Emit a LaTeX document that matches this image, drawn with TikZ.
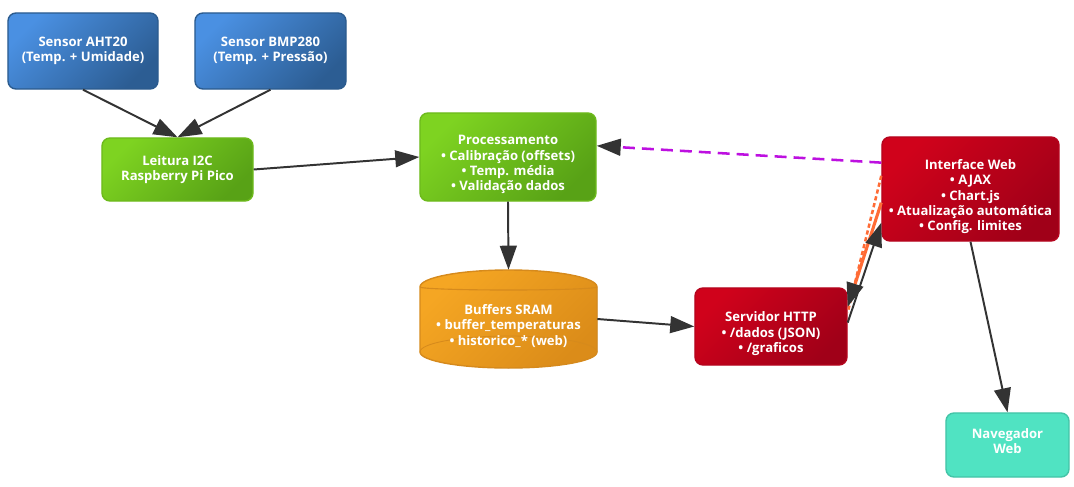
\documentclass[tikz,border=0pt]{standalone}
\usepackage{fontspec}
\setmainfont{Open Sans}
\usetikzlibrary{calc,arrows.meta}

\definecolor{blueA}{HTML}{4A90E2}
\definecolor{blueB}{HTML}{2C5D93}
\definecolor{blueE}{HTML}{2B5B8E}
\definecolor{greenA}{HTML}{7ED321}
\definecolor{greenB}{HTML}{58A216}
\definecolor{greenE}{HTML}{6DBA1C}
\definecolor{orangeA}{HTML}{F5A623}
\definecolor{orangeB}{HTML}{DB8C19}
\definecolor{orangeE}{HTML}{D68A1C}
\definecolor{redA}{HTML}{D0021B}
\definecolor{redB}{HTML}{A00018}
\definecolor{redE}{HTML}{B5051E}
\definecolor{tealA}{HTML}{50E3C2}
\definecolor{tealE}{HTML}{43C4A7}
\definecolor{arrowgray}{HTML}{333333}
\definecolor{purpleD}{HTML}{BD10E0}
\definecolor{orangeL}{HTML}{FF6B35}

\tikzset{
	boxtext/.style={text=white, align=center, font=\bfseries\fontsize{9.3}{10.9}\selectfont, inner sep=0pt},
	box/.style={rectangle, rounded corners=0.2cm, line width=1pt, boxtext, inner sep=2pt},
	sensorbox/.style={box, draw=blueE, top color=blueA, bottom color=blueB, shading angle=45},
	picobox/.style={box, draw=greenE, top color=greenA, bottom color=greenB, shading angle=45},
	webbox/.style={box, draw=redE, top color=redA, bottom color=redB, shading angle=45},
	navbox/.style={box, draw=tealE, fill=tealA},
	membox/.style={rectangle, minimum width=4.425cm, minimum height=2.45cm, inner sep=0pt},
	flow/.style={line width=1.4pt, draw=arrowgray, -{Triangle[length=0.6cm, width=0.42cm, color=arrowgray]}},
}

\begin{document}
\begin{tikzpicture}[x=0.025cm, y=0.025cm]
			%%%%% START %%%%%
			\useasboundingbox (0,0) rectangle (1074,-487);
			
			% sensores
			\node[sensorbox, minimum width=3.75cm, minimum height=1.9cm] (aht) at (83,-51) {Sensor AHT20\\(Temp. + Umidade)};
			\node[sensorbox, minimum width=3.775cm, minimum height=1.9cm] (bmp) at (270.5,-51) {Sensor BMP280\\(Temp. + Pressão)};
			
			\node[picobox, minimum width=3.775cm, minimum height=1.575cm] (lei) at (177.5,-169.5) {Leitura I2C\\Raspberry Pi Pico};
			\node[picobox, minimum width=4.4cm, minimum height=2.2cm,
				label={[boxtext, yshift=-0.19cm]center:{Processamento\\• Calibração (offsets)\\• Temp. média\\• Validação dados}}] (proc) at (508,-157) {};
			
			% cilindro
			\fill[top color=orangeA, bottom color=orangeB, shading angle=45] (420,-287) -- (420,-352)
				arc[start angle=180, end angle=360, x radius=88.5, y radius=16] -- (597,-287)
				arc[start angle=0, end angle=180, x radius=88.5, y radius=17] -- cycle;
			\draw[orangeE, line width=1pt] (420,-287) -- (420,-352)
				arc[start angle=180, end angle=360, x radius=88.5, y radius=16] -- (597,-287)
				arc[start angle=0, end angle=180, x radius=88.5, y radius=17];
			\draw[orangeE, line width=0.8pt] (420,-287) arc[start angle=180, end angle=360, x radius=88.5, y radius=3];
			\draw[orangeE, line width=0.6pt] (420,-352) arc[start angle=180, end angle=0, x radius=88.5, y radius=16];
			\node[membox, label={[boxtext, yshift=-0.17cm]center:{Buffers SRAM\\• buffer\_temperaturas\\• historico\_* (web)}}] (buf) at (508.5,-319) {};
			
			\node[webbox, minimum width=3.8cm, minimum height=1.925cm,
				label={[boxtext, yshift=-0.18cm]center:{Servidor HTTP\\• /dados (JSON)\\• /graficos}}] (srv) at (771,-326.5) {};
			\node[webbox, minimum width=4.425cm, minimum height=2.6cm,
				label={[boxtext, yshift=-0.19cm]center:{Interface Web\\• AJAX\\• Chart.js\\• Atualização automática\\• Config. limites}}] (web) at (970.5,-189) {};
			\node[navbox, minimum width=3.075cm, minimum height=1.6cm,
				label={[boxtext, yshift=0.09cm]center:{Navegador\\Web}}] (nav) at (1007.5,-445) {};
			
			% ligacoes
			\draw[flow] (aht.south) -- (lei.north);
			\draw[flow] (bmp.south) -- (lei.north);
			\draw[flow] (lei.east) -- (proc.west);
			\draw[flow] (proc.south) -- (buf.north);
			\draw[flow] (buf.east) -- (srv.west);
			\draw[flow] (web.south) -- (nav.north);
			
			\draw[flow, draw=purpleD, line width=1.8pt, dash pattern=on 8.5pt off 5pt] ($(web.north west)!0.25!(web.south west)$) -- ($(proc.north east)!0.375!(proc.south east)$);
			
			\draw[orangeL, line width=1.8pt, dash pattern=on 3pt off 2pt] ($(web.north west)!0.375!(web.south west)$) -- ($(srv.north east)!0.32!(srv.south east)$);
			\draw[flow, draw=orangeL, line width=2.2pt] ($(web.north west)!0.63!(web.south west)$) -- ($(srv.north east)!0.25!(srv.south east)$);
			\draw[flow] ($(srv.north east)!0.45!(srv.south east)$) -- ($(web.north west)!0.82!(web.south west)$);
			
			%%%%% END %%%%%
\end{tikzpicture}
\end{document}
